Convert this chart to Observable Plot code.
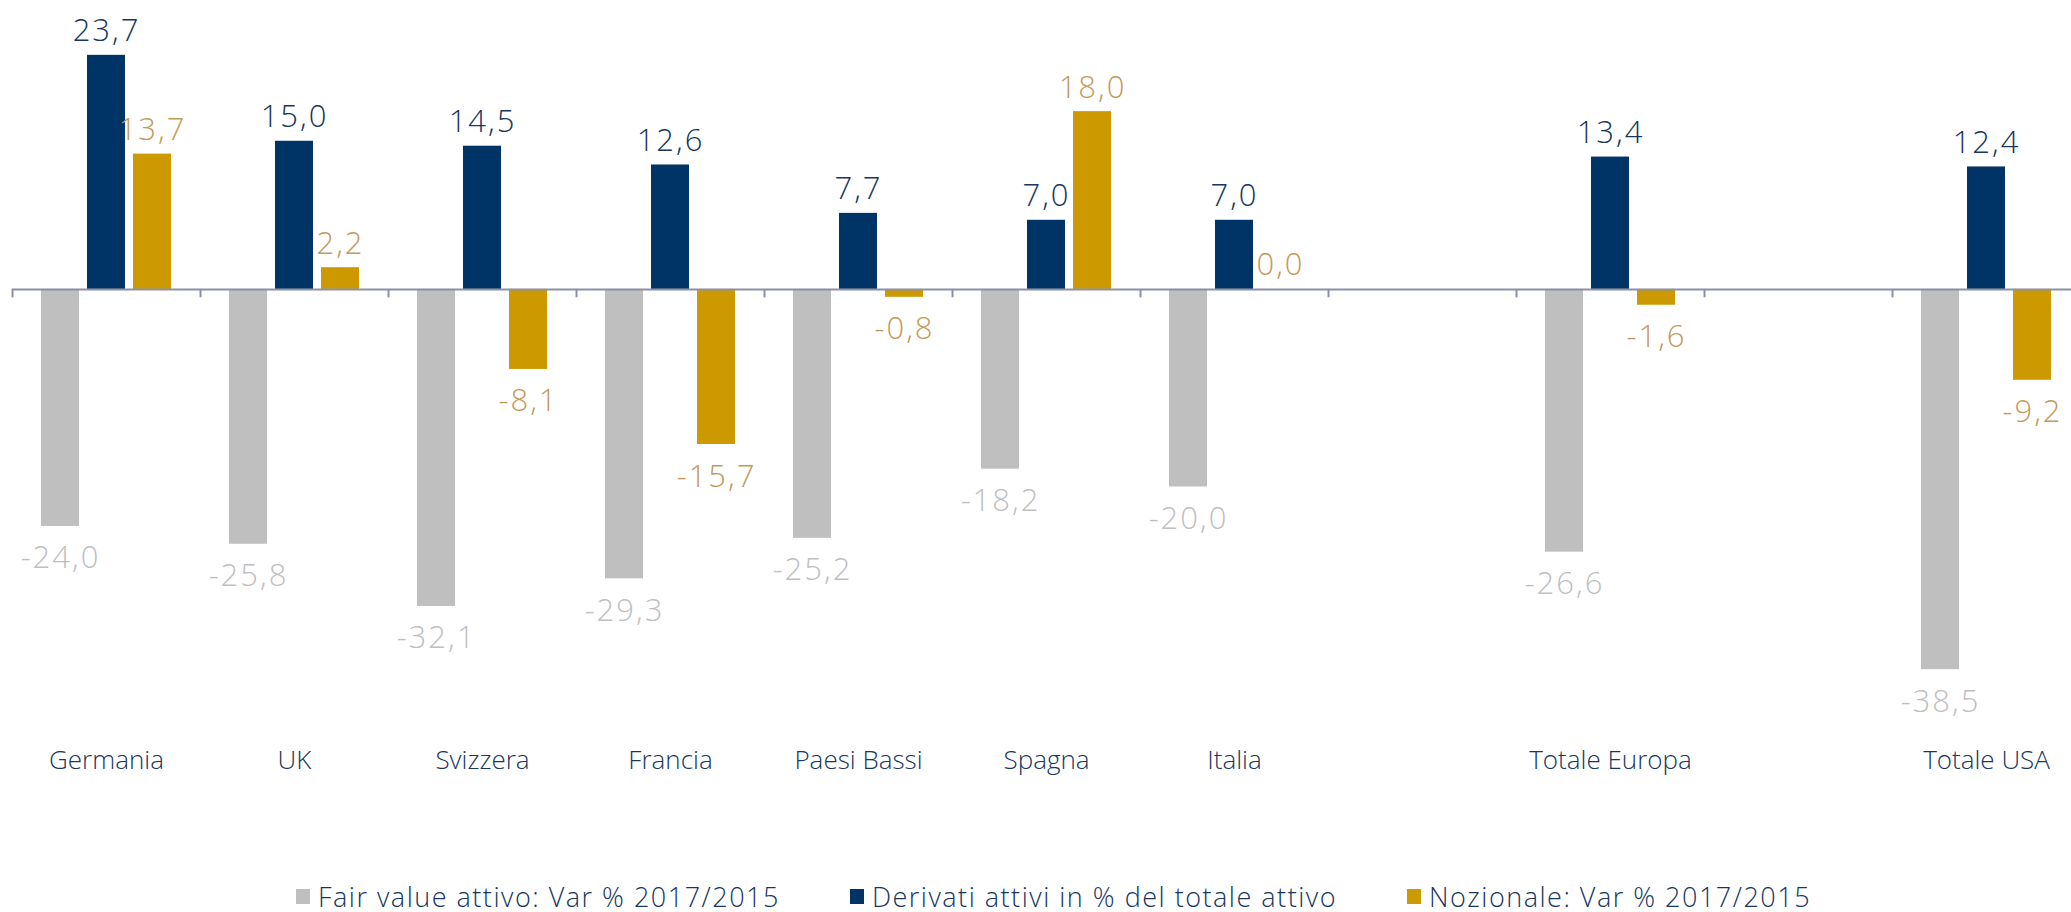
<!DOCTYPE html>
<html>
<head>
<meta charset="utf-8">
<script src="https://cdn.jsdelivr.net/npm/d3@7"></script>
<script src="https://cdn.jsdelivr.net/npm/@observablehq/plot@0.6"></script>
<style>
  html, body { margin: 0; padding: 0; background: #fff; }
  body { font-family: "Century Gothic", "Open Sans", "DejaVu Sans", sans-serif; }
  #legend { display: flex; justify-content: center; align-items: center; height: 32px; font-size: 27px; font-weight: 300; letter-spacing: 1.5px; color: #17375E; padding-left: 36px; }
  #legend .item { display: flex; align-items: center; gap: 8px; white-space: nowrap; }
  #legend .item + .item { margin-left: 70px; }
  #legend .sw { width: 14px; height: 15px; display: inline-block; }
  #chart svg g[aria-label="text"] text { letter-spacing: 2px; font-weight: 300; }
  #chart svg g[aria-label="fx-axis tick label"] text { font-weight: 300; }
</style>
</head>
<body>
<div id="chart"></div>
<div id="legend"></div>
<script>
const categories = ["Germania", "UK", "Svizzera", "Francia", "Paesi Bassi", "Spagna", "Italia", " ", "Totale Europa", "  ", "Totale USA"];
const seriesNames = ["Fair value attivo: Var % 2017/2015", "Derivati attivi in % del totale attivo", "Nozionale: Var % 2017/2015"];
const fairValue = [-24.0, -25.8, -32.1, -29.3, -25.2, -18.2, -20.0, null, -26.6, null, -38.5];
const derivati  = [23.7, 15.0, 14.5, 12.6, 7.7, 7.0, 7.0, null, 13.4, null, 12.4];
const nozionale = [13.7, 2.2, -8.1, -15.7, -0.8, 18.0, 0.0, null, -1.6, null, -9.2];
const barColors = ["#BFBFBF", "#003366", "#CC9900"];
const labelColors = ["#BFBFBF", "#17375E", "#C49A5A"];

const seriesValues = [fairValue, derivati, nozionale];
const rows = [];
categories.forEach((cat, i) => {
  seriesValues.forEach((vals, s) => {
    if (vals[i] != null) rows.push({cat, series: seriesNames[s], s, value: vals[i]});
  });
});

const W = 2071, H = 880, ML = 12, MR = -9, MT = 42, MB = 196;
const fxStep = (W - ML - MR) / categories.length;
const PI = 0.174, PO = 0.63;
const xStep = fxStep / (3 - PI + 2 * PO);
const grayCenter = xStep * PO + xStep * (1 - PI) / 2;
const fmt = v => v.toFixed(1).replace(".", ",");

const marks = [
  Plot.barY(rows, {fx: "cat", x: "series", y: "value", fill: "series"}),
  Plot.ruleY([0], {stroke: "#8C8FA6", strokeWidth: 2}),
  Plot.ruleX(categories, {fx: d => d, x: () => seriesNames[0], y1: 0, y2: -0.85, dx: -grayCenter, stroke: "#8C8FA6", strokeWidth: 2})
];
seriesNames.forEach((name, s) => {
  marks.push(Plot.text(rows.filter(d => d.s === s && d.value >= 0), {
    fx: "cat", x: "series", y: "value", text: d => fmt(d.value),
    fill: labelColors[s], fontSize: 31, lineAnchor: "bottom", dy: -14
  }));
  marks.push(Plot.text(rows.filter(d => d.s === s && d.value < 0), {
    fx: "cat", x: "series", y: "value", text: d => fmt(d.value),
    fill: labelColors[s], fontSize: 31, lineAnchor: "top", dy: 20
  }));
});

const chart = Plot.plot({
  width: W, height: H,
  marginLeft: ML, marginRight: MR, marginTop: MT, marginBottom: MB,
  fx: {domain: categories, padding: 0, label: null, tickSize: 0, tickPadding: 66},
  x: {domain: seriesNames, axis: null, paddingInner: PI, paddingOuter: PO},
  y: {domain: [-40, 25], axis: null},
  color: {domain: seriesNames, range: barColors},
  style: {fontFamily: '"Century Gothic", "Open Sans", sans-serif', fontSize: "26px", color: "#17375E", background: "white", overflow: "hidden"},
  marks
});
document.getElementById("chart").appendChild(chart);

const legend = document.getElementById("legend");
seriesNames.forEach((name, s) => {
  const item = document.createElement("div");
  item.className = "item";
  const sw = document.createElement("span");
  sw.className = "sw";
  sw.style.background = barColors[s];
  const t = document.createElement("span");
  t.textContent = name;
  item.appendChild(sw);
  item.appendChild(t);
  legend.appendChild(item);
});
</script>
</body>
</html>
